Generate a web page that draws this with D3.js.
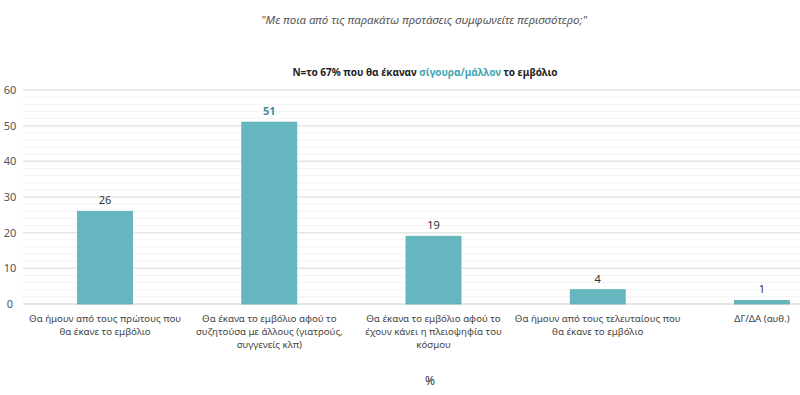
<!DOCTYPE html>
<html>
<head>
<meta charset="utf-8">
<script src="https://cdn.jsdelivr.net/npm/d3@7"></script>
<style>
  body { margin: 0; background: #fff; }
  svg { display: block; font-family: "Noto Sans", "Open Sans", sans-serif; }
</style>
</head>
<body>
<div id="chart"></div>
<script>
(function(){
	var w = 800, h = 395;

	// δεδομένα
	var categories = [
		["Θα ήμουν από τους πρώτους που", "θα έκανε το εμβόλιο"],
		["Θα έκανα το εμβόλιο αφού το", "συζητούσα με άλλους (γιατρούς,", "συγγενείς κλπ)"],
		["Θα έκανα το εμβόλιο αφού το", "έχουν κάνει η πλειοψηφία του", "κόσμου"],
		["Θα ήμουν από τους τελευταίους που", "θα έκανε το εμβόλιο"],
		["ΔΓ/ΔΑ (αυθ.)"]
	];
	var values = [26, 51, 19, 4, 1];
	var yTicks = [0, 10, 20, 30, 40, 50, 60];

	var svg = d3.select("#chart")
		.append("svg")
		.attr("width", w)
		.attr("height", h);

	var x = d3.scaleBand()
		.domain(d3.range(values.length))
		.range([23, 844])
		.paddingInner(0.665)
		.paddingOuter(0.3325);

	var y = d3.scaleLinear()
		.domain([0, 60])
		.range([304, 90]);

	// τίτλοι
	svg.append("text")
		.attr("x", 424)
		.attr("y", 24)
		.attr("text-anchor", "middle")
		.attr("font-size", 11.5)
		.attr("font-style", "italic")
		.attr("fill", "#555")
		.text("\"Με ποια από τις παρακάτω προτάσεις συμφωνείτε περισσότερο;\"");

	var sub = svg.append("text")
		.attr("x", 425)
		.attr("y", 76)
		.attr("text-anchor", "middle")
		.attr("font-size", 10)
		.attr("font-weight", "bold")
		.attr("fill", "#222");
	sub.append("tspan").text("Ν=το 67% που θα έκαναν ");
	sub.append("tspan").attr("fill", "#3fa6b3").text("σίγουρα/μάλλον");
	sub.append("tspan").text(" το εμβόλιο");

	// γραμμές πλέγματος
	svg.append("g")
		.selectAll("line")
		.data(d3.range(2, 60, 2).filter(function(d){ return d % 10 != 0; }))
		.enter()
		.append("line")
		.attr("x1", 23).attr("x2", w)
		.attr("y1", function(d){ return y(d); })
		.attr("y2", function(d){ return y(d); })
		.attr("stroke", "#f3f3f3")
		.attr("stroke-width", 1);

	svg.append("g")
		.selectAll("line")
		.data(yTicks)
		.enter()
		.append("line")
		.attr("x1", 23).attr("x2", w)
		.attr("y1", function(d){ return y(d); })
		.attr("y2", function(d){ return y(d); })
		.attr("stroke", function(d){ return d == 0 ? "#dcdcdc" : "#e6e6e6"; })
		.attr("stroke-width", 1.5);

	// άξονας y
	var yAxis = svg.append("g")
		.attr("transform", "translate(16,0)")
		.call(d3.axisLeft(y).tickValues(yTicks).tickSize(0).tickPadding(0));
	yAxis.select(".domain").remove();
	yAxis.selectAll("text")
		.attr("text-anchor", "middle")
		.attr("x", -6)
		.attr("font-size", 11)
		.attr("font-family", "Noto Sans, sans-serif")
		.attr("fill", "#555");

	// μπάρες
	svg.append("g")
		.selectAll("rect")
		.data(values)
		.enter()
		.append("rect")
		.attr("x", function(d, i){ return x(i); })
		.attr("y", function(d){ return y(d); })
		.attr("width", x.bandwidth())
		.attr("height", function(d){ return y(0) - y(d); })
		.attr("fill", "#66b6bf")
		.attr("stroke", "#5aaeb8")
		.attr("stroke-width", 0.8);

	// τιμές
	var maxV = d3.max(values);
	svg.append("g")
		.selectAll("text")
		.data(values)
		.enter()
		.append("text")
		.attr("x", function(d, i){ return x(i) + x.bandwidth() / 2; })
		.attr("y", function(d){ return y(d) - 7; })
		.attr("text-anchor", "middle")
		.attr("font-size", 11)
		.attr("font-weight", function(d){ return d == maxV ? "bold" : "normal"; })
		.attr("fill", function(d){ return d == maxV ? "#3d8f9c" : "#333"; })
		.text(function(d){ return d; });

	// ετικέτες κατηγοριών
	var labels = svg.append("g")
		.selectAll("text")
		.data(categories)
		.enter()
		.append("text")
		.attr("text-anchor", "middle")
		.attr("font-size", 9.7)
		.attr("fill", "#444")
		.attr("transform", function(d, i){
			return "translate(" + (x(i) + x.bandwidth() / 2) + ",322)";
		});
	labels.selectAll("tspan")
		.data(function(d){ return d; })
		.enter()
		.append("tspan")
		.attr("x", 0)
		.attr("dy", function(d, i){ return i == 0 ? 0 : 13; })
		.text(function(d){ return d; });

	svg.append("text")
		.attr("x", 430)
		.attr("y", 385)
		.attr("text-anchor", "middle")
		.attr("font-size", 12)
		.attr("fill", "#333")
		.text("%");
})();
</script>
</body>
</html>
